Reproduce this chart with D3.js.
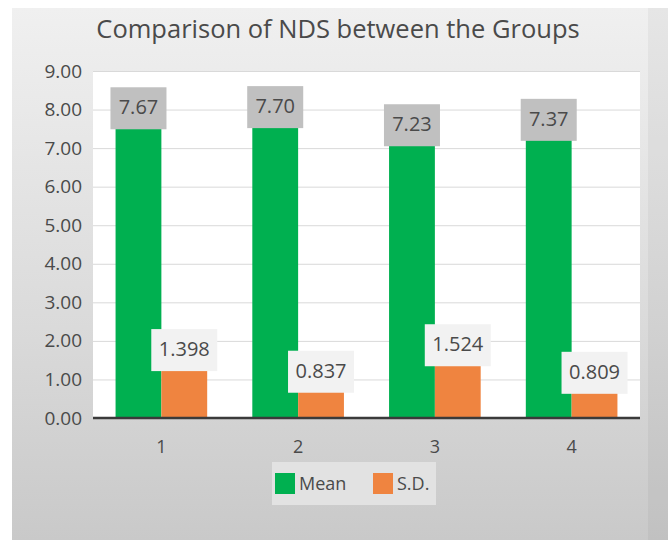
<!DOCTYPE html>
<html>
<head>
<meta charset="utf-8">
<script src="https://cdn.jsdelivr.net/npm/d3@7"></script>
<style>
  body { margin: 0; background: #fff; }
  svg { display: block; }
</style>
</head>
<body>
<div id="chart"></div>
<script>
// data
var groups = ["1", "2", "3", "4"];
var seriesNames = ["Mean", "S.D."];
var meanValues = [7.67, 7.70, 7.23, 7.37];
var sdValues = [1.398, 0.837, 1.524, 0.809];
var yTicks = [0, 1, 2, 3, 4, 5, 6, 7, 8, 9];

var width = 668, height = 540;
var plot = { left: 93, right: 640, top: 71, bottom: 418 };
var barColors = ["#00b050", "#ef8440"];
var boxColors = ["#c0c0c0", "#f2f2f2"];
var font = "'Open Sans', sans-serif";
var textColor = "#4a4a4a";

var svg = d3.select("#chart").append("svg")
    .attr("width", width)
    .attr("height", height);

// background gradient like the screenshot
var grad = svg.append("defs").append("linearGradient")
    .attr("id", "bg")
    .attr("x1", 0).attr("y1", 0).attr("x2", 0).attr("y2", 1);
grad.append("stop").attr("offset", "0%").attr("stop-color", "#f0f0f0");
grad.append("stop").attr("offset", "60%").attr("stop-color", "#dadada");
grad.append("stop").attr("offset", "100%").attr("stop-color", "#c9c9c9");

svg.append("rect")
    .attr("x", 12).attr("y", 8)
    .attr("width", width - 12).attr("height", height - 8)
    .attr("fill", "url(#bg)");

svg.append("rect")
    .attr("x", 648).attr("y", 8)
    .attr("width", 20).attr("height", height - 8)
    .attr("fill", "#000").attr("opacity", 0.04);

// title
svg.append("text")
    .attr("x", 338).attr("y", 38)
    .attr("text-anchor", "middle")
    .attr("font-family", font)
    .attr("font-size", "25.5px")
    .attr("fill", textColor)
    .text("Comparison of NDS between the Groups");

// plot area
svg.append("rect")
    .attr("x", plot.left).attr("y", plot.top)
    .attr("width", plot.right - plot.left).attr("height", plot.bottom - plot.top)
    .attr("fill", "#fff");

var x0 = d3.scaleBand()
    .domain(groups)
    .range([plot.left, plot.right])
    .paddingInner(0.33)
    .paddingOuter(0.165);

var x1 = d3.scaleBand()
    .domain(seriesNames)
    .range([0, x0.bandwidth()]);

var y = d3.scaleLinear()
    .domain([0, 9])
    .range([plot.bottom, plot.top]);

// gridlines
svg.append("g")
    .selectAll("line")
    .data(yTicks.slice(1))
    .join("line")
    .attr("x1", plot.left).attr("x2", plot.right)
    .attr("y1", function (d) { return y(d) + 0.5; })
    .attr("y2", function (d) { return y(d) + 0.5; })
    .attr("stroke", "#d9d9d9")
    .attr("stroke-width", 1);

// y axis labels
var yAxis = d3.axisLeft(y)
    .tickValues(yTicks)
    .tickFormat(d3.format(".2f"))
    .tickSize(0)
    .tickPadding(11);

svg.append("g")
    .attr("transform", "translate(" + plot.left + ",0)")
    .call(yAxis)
    .call(function (g) { g.select(".domain").remove(); })
    .selectAll("text")
    .attr("font-family", font)
    .attr("font-size", "19px")
    .attr("fill", textColor);

var rows = groups.map(function (g, i) {
    return { group: g, values: [meanValues[i], sdValues[i]] };
});

var groupSel = svg.append("g")
    .selectAll("g")
    .data(rows)
    .join("g")
    .attr("transform", function (d) { return "translate(" + x0(d.group) + ",0)"; });

groupSel.selectAll("rect")
    .data(function (d) { return d.values.map(function (v, k) { return { series: seriesNames[k], k: k, value: v }; }); })
    .join("rect")
    .attr("x", function (d) { return x1(d.series); })
    .attr("y", function (d) { return y(d.value); })
    .attr("width", x1.bandwidth())
    .attr("height", function (d) { return y(0) - y(d.value); })
    .attr("fill", function (d) { return barColors[d.k]; });

// x axis line
svg.append("line")
    .attr("x1", plot.left).attr("x2", plot.right)
    .attr("y1", plot.bottom).attr("y2", plot.bottom)
    .attr("stroke", "#3a3a3a")
    .attr("stroke-width", 2.5);

// x axis labels
var xAxis = d3.axisBottom(x0).tickSize(0).tickPadding(22);
svg.append("g")
    .attr("transform", "translate(0," + plot.bottom + ")")
    .call(xAxis)
    .call(function (g) { g.select(".domain").remove(); })
    .selectAll("text")
    .attr("font-family", font)
    .attr("font-size", "18px")
    .attr("fill", textColor);

// data labels in boxes
var labelSel = groupSel.selectAll("g.lbl")
    .data(function (d) { return d.values.map(function (v, k) { return { series: seriesNames[k], k: k, value: v }; }); })
    .join("g")
    .attr("class", "lbl")
    .attr("transform", function (d) {
        return "translate(" + (x1(d.series) + x1.bandwidth() / 2) + "," + (y(d.value) - 14) + ")";
    });

labelSel.append("rect")
    .attr("x", function (d) { return d.k === 0 ? -28 : -33; })
    .attr("y", -21)
    .attr("width", function (d) { return d.k === 0 ? 56 : 66; })
    .attr("height", 42)
    .attr("fill", function (d) { return boxColors[d.k]; });

labelSel.append("text")
    .attr("text-anchor", "middle")
    .attr("dy", "0.3em")
    .attr("font-family", font)
    .attr("font-size", "20px")
    .attr("fill", textColor)
    .text(function (d) { return d.k === 0 ? d3.format(".2f")(d.value) : d3.format(".3f")(d.value); });

// legend
var legend = svg.append("g").attr("transform", "translate(272,462)");
legend.append("rect")
    .attr("width", 164).attr("height", 43)
    .attr("fill", "#e2e2e2");

var legendItems = legend.selectAll("g")
    .data(seriesNames)
    .join("g")
    .attr("transform", function (d, i) { return "translate(" + (i === 0 ? 3 : 101) + ",0)"; });

legendItems.append("rect")
    .attr("x", 0).attr("y", 11)
    .attr("width", 20).attr("height", 21)
    .attr("fill", function (d, i) { return barColors[i]; });

legendItems.append("text")
    .attr("x", 24).attr("y", 22)
    .attr("dy", "0.35em")
    .attr("font-family", font)
    .attr("font-size", "18px")
    .attr("fill", textColor)
    .text(function (d) { return d; });
</script>
</body>
</html>
